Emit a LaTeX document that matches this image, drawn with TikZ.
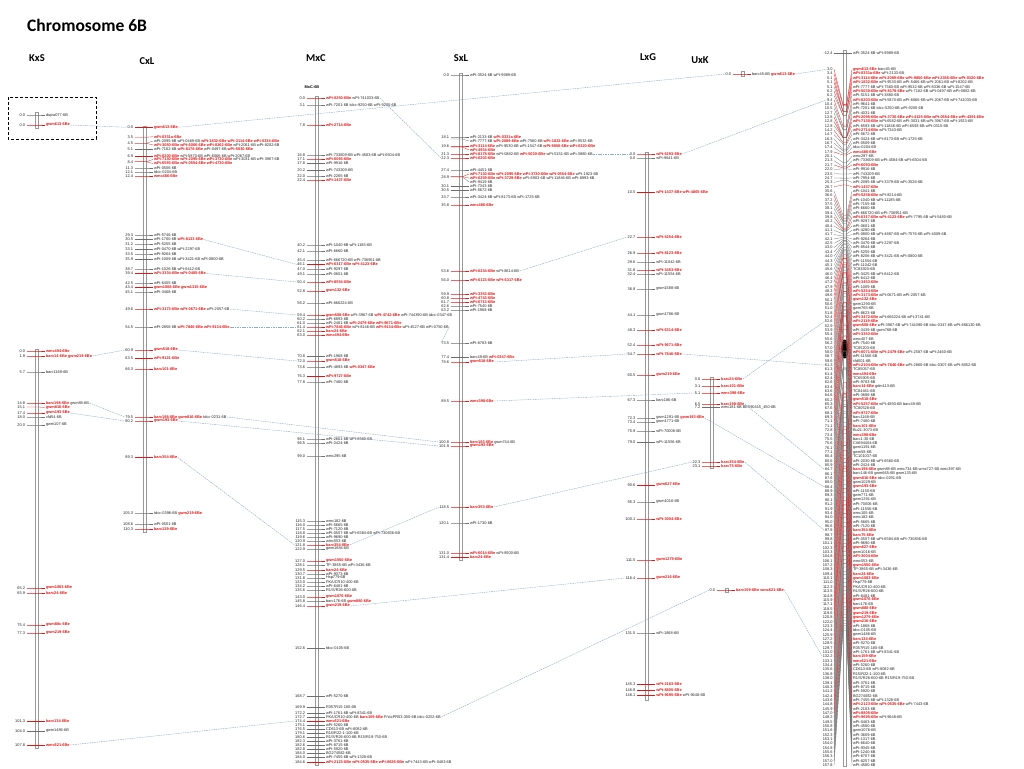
\documentclass[tikz,border=0pt]{standalone}
\usepackage{fontspec}
\setmainfont{Liberation Sans}
\newfontfamily\titlefont{Carlito}
\definecolor{mkred}{RGB}{228,20,20}
\definecolor{lnk}{RGB}{140,170,215}
\definecolor{gr}{RGB}{110,110,110}
\newcommand\rd[1]{\textcolor{mkred}{\bfseries #1}}
\tikzset{
 barline/.style={draw=gr!70, line width=0.35pt},
 tk/.style={line width=0.28pt},
 numtxt/.style={font=\fontsize{3.9}{4.2}\selectfont, text=black!85, inner sep=0.3pt, anchor=east},
 labtxt/.style={font=\fontsize{3.9}{4.2}\selectfont, text=black!85, inner sep=0.3pt, anchor=west},
 lnkline/.style={draw=lnk, line width=0.4pt, dash pattern=on 1.6pt off 0.8pt},
 ttl/.style={font=\titlefont\bfseries\fontsize{10.5}{11}\selectfont, inner sep=0pt},
}
% name, barx, numy, number, laby, colour, text
\newcommand\mk[7]{%
 \node[numtxt] (#1n) at ({#2-11},#3) {#4};
 \draw[tk,draw=#6] ({#2-10},#3) -- ({#2+2},#3) -- ({#2+8.5},#5);
 \node[labtxt] (#1) at ({#2+9},#5) {#7};
}
% consensus: row k, cM, colour, text
\newcommand\ck[4]{%
 \pgfmathsetmacro\ly{69.3+4.35*#1}
 \pgfmathsetmacro\py{min(764,max(52,52+(#2+12.4)*3.4))}
 \node[numtxt] (r#1n) at (833,\ly) {#2};
 \draw[tk,draw=#3] (834,\ly) -- (843,\py) -- (846.5,\py) -- (852,\ly);
 \node[labtxt] (r#1) at (852.5,\ly) {#4};
}
\begin{document}
\begin{tikzpicture}[x=1pt,y=-1pt]
\useasboundingbox[fill=white] (0,0) rectangle (1024,768);
\node[anchor=west,font=\titlefont\bfseries\fontsize{17.5}{18}\selectfont,inner sep=0pt] (title) at (27,25) {Chromosome 6B};
\node[ttl] (tK) at (37,58) {KxS};
\node[ttl] (tC) at (147,61) {CxL};
\node[ttl] (tM) at (316,58) {MxC};
\node[ttl] (tS) at (461,58) {SxL};
\node[ttl] (tL) at (648,57) {LxG};
\node[ttl] (tU) at (700,60) {UxK};

% ---------- KxS ----------
\draw[line width=0.8pt, dash pattern=on 3pt off 2pt] (8,97) rectangle (96,139);
\draw[barline] (35,112) rectangle (38,128);
\mk{ka}{36.5}{115}{0.0}{115}{gr}{dupw077-6B}
\mk{kb}{36.5}{125}{0.0}{125}{mkred}{\rd{gwm613-6Be}}
\draw[barline] (35,349) rectangle (38,748);
\mk{k1}{36.5}{351}{0.0}{351}{mkred}{\rd{wmc494-6Be}}
\mk{k2}{36.5}{356}{1.9}{356}{mkred}{\rd{barc14-6Be gwm219-6Be}}
\mk{k3}{36.5}{372}{5.7}{372}{gr}{barc1169-6B}
\mk{k4}{36.5}{403}{14.8}{403}{mkred}{\rd{barc198-6Be} gwm88-6B}
\mk{k5}{36.5}{407}{15.1}{407.5}{mkred}{\rd{gwm816-6Be}}
\mk{k6}{36.5}{413}{17.4}{413}{mkred}{\rd{gwm193-6Be}}
\mk{k7}{36.5}{417}{18.0}{417}{gr}{cfd54-6B}
\mk{k8}{36.5}{425}{20.0}{425}{gr}{gwm107-6B}
\mk{k9}{36.5}{588}{65.2}{588}{mkred}{\rd{gwm1083-6Be}}
\mk{k10}{36.5}{593}{65.9}{593}{mkred}{\rd{barc24-6Be}}
\mk{k11}{36.5}{625}{75.4}{625}{mkred}{\rd{gwm88c-6Be}}
\mk{k12}{36.5}{633}{77.3}{633}{mkred}{\rd{gwm219-6Be}}
\mk{k13}{36.5}{721}{101.3}{721}{mkred}{\rd{barc134-6Be}}
\mk{k14}{36.5}{731}{104.0}{731}{gr}{gwm1486-6B}
\mk{k15}{36.5}{745}{107.8}{745}{mkred}{\rd{wmc621-6Be}}

% ---------- CxL ----------
\draw[barline] (143,126) rectangle (146,532);
\mk{c1}{144.5}{127.3}{0.0}{127.3}{mkred}{\rd{gwm613-6Be}}
\mk{c2}{144.5}{137.3}{3.5}{136.7}{mkred}{\rd{wPt-0331a-6Be}}
\mk{c3}{144.5}{143.3}{4.5}{141}{gr}{wPt-2095-6B wPt-0469-6B \rd{wPt-1832-6Be wPt-3114-6Be wPt-5334-6Be}}
\mk{c4}{144.5}{143.3}{}{145}{mkred}{\rd{wPt-3050-6Be wPt-6066-6Be wPt-0262-6Be} wPt-2061-6B wPt-8202-6B}
\mk{c5}{144.5}{149.3}{5.1}{149.3}{gr}{wPt-7162-6B \rd{wPt-8178-6Be} wPt-0497-6B \rd{wPt-5030-6Be}}
\mk{c6}{144.5}{155.7}{6.9}{155.7}{mkred}{\rd{wPt-6200-6Be} wPt-5870-6B wPt-6066-6B wPt-2067-6B}
\mk{c7}{144.5}{161.7}{8.4}{159.5}{mkred}{\rd{wPt-7130-6Be wPt-2095-6Be wPt-3730-6Be} wPt-3031-6B wPt-3967-6B}
\mk{c8}{144.5}{161.7}{}{163.5}{mkred}{\rd{wPt-6593-6Be wPt-0554-6Be wPt-4730-6Be}}
\mk{c9}{144.5}{168}{11.3}{168}{gr}{wPt-0506-6B}
\mk{c10}{144.5}{172}{12.1}{172}{gr}{tdcc-0204-6B}
\mk{c11}{144.5}{176}{12.4}{176}{mkred}{\rd{wmc486-6Be}}
\mk{c12}{144.5}{235}{29.3}{235}{gr}{wPt-5746-6B}
\mk{c13}{144.5}{239.5}{30.5}{239.5}{gr}{wPt-1700-6B \rd{wPt-8133-6Be}}
\mk{c14}{144.5}{244}{31.2}{244}{gr}{wPt-5255-6B}
\mk{c15}{144.5}{249.5}{33.1}{249.5}{gr}{wPt-0470-6B wPt-2297-6B}
\mk{c16}{144.5}{254}{33.5}{254}{gr}{wPt-9264-6B}
\mk{c17}{144.5}{259.5}{35.9}{259.5}{gr}{wPt-1009-6B wPt-3421-6B wPt-0800-6B}
\mk{c18}{144.5}{269}{38.7}{269}{gr}{wPt-1026-6B wPt-6412-6B}
\mk{c19}{144.5}{273.5}{39.4}{273.5}{mkred}{\rd{wPt-3334-6Be wPt-0405-6Be}}
\mk{c20}{144.5}{283}{42.5}{283}{gr}{wPt-6405-6B}
\mk{c21}{144.5}{287.5}{43.4}{287.5}{mkred}{\rd{gwm1008-6Be gwm1315-6Be}}
\mk{c22}{144.5}{292}{45.1}{292}{gr}{wPt-3468-6B}
\mk{c23}{144.5}{309}{49.6}{309}{mkred}{\rd{wPt-3173-6Be wPt-0671-6Be} wPt-2057-6B}
\mk{c24}{144.5}{327}{54.5}{327}{gr}{wPt-2856-6B \rd{wPt-7846-6Be wPt-9134-6Be}}
\mk{c25}{144.5}{350}{60.9}{350}{mkred}{\rd{gwm518-6Be}}
\mk{c26}{144.5}{358.5}{63.5}{358.5}{mkred}{\rd{wPt-9121-6Be}}
\mk{c27}{144.5}{369}{66.3}{369}{mkred}{\rd{barc101-6Be}}
\mk{c28}{144.5}{417}{79.5}{417}{mkred}{\rd{barc198-6Be gwm816-6Be} tdcc-0231-6B}
\mk{c29}{144.5}{421}{80.2}{421}{mkred}{\rd{gwm193-6Be}}
\mk{c30}{144.5}{457.5}{89.3}{457.5}{mkred}{\rd{barc354-6Be}}
\mk{c31}{144.5}{513}{105.3}{513}{gr}{tdcc-0396-6B \rd{gwm219-6Be}}
\mk{c32}{144.5}{524}{108.6}{524}{gr}{wPt-0501-6B}
\mk{c33}{144.5}{529}{110.3}{529}{mkred}{\rd{barc129-6Be}}

% ---------- MxC ----------
\node[font=\bfseries\fontsize{3.9}{4.2}\selectfont,inner sep=0pt] (mxclab) at (312,87) {MxC-6B};
\draw[barline] (315,96) rectangle (318,765);
\mk{m1}{316.5}{98}{0.0}{98}{mkred}{\rd{wPt-0250-6Be} wPt-741033-6B}
\mk{m2}{316.5}{105}{3.1}{105}{gr}{wPt-7201-6B tdcc-9250-6B wPt-9200-6B}
\mk{m3}{316.5}{125}{7.8}{125}{mkred}{\rd{wPt-2714-6Be}}
\mk{m4}{316.5}{155}{16.8}{155}{gr}{wPt-733609-6B wPt-4583-6B wPt-6504-6B}
\mk{m5}{316.5}{159}{17.1}{159}{mkred}{\rd{wPt-6093-6Be}}
\mk{m6}{316.5}{163.5}{17.8}{163.5}{gr}{wPt-9916-6B}
\mk{m7}{316.5}{170.5}{20.2}{170.5}{gr}{wPt-743209-6B}
\mk{m8}{316.5}{176}{22.0}{176}{gr}{wPt-2265-6B}
\mk{m9}{316.5}{180}{22.4}{180}{mkred}{\rd{wPt-1437-6Be}}
\mk{m10}{316.5}{245}{40.2}{245}{gr}{wPt-1040-6B wPt-1185-6B}
\mk{m11}{316.5}{251}{42.1}{251}{gr}{wPt-6660-6B}
\mk{m12}{316.5}{260}{45.4}{260}{gr}{wPt-666720-6B wPt-736951-6B}
\mk{m13}{316.5}{264.5}{46.1}{264.5}{mkred}{\rd{wPt-6317-6Be wPt-4123-6Be}}
\mk{m14}{316.5}{269}{47.0}{269}{gr}{wPt-9297-6B}
\mk{m15}{316.5}{274}{49.1}{274}{gr}{wPt-0601-6B}
\mk{m16}{316.5}{282}{50.4}{282}{mkred}{\rd{wPt-8554-6Be}}
\mk{m17}{316.5}{291}{52.8}{291}{mkred}{\rd{gwm132-6Be}}
\mk{m18}{316.5}{303}{56.2}{303}{gr}{wPt-666224-6B}
\mk{m19}{316.5}{315}{59.4}{315}{mkred}{\rd{gwm508-6Be} wPt-3967-6B \rd{wPt-4742-6Be} wPt-744390-6B tdcc-0347-6B}
\mk{m20}{316.5}{319}{60.2}{319}{gr}{wPt-6893-6B}
\mk{m21}{316.5}{323}{61.0}{323}{gr}{wPt-2481-6B \rd{wPt-2479-6Be wPt-9671-6Be}}
\mk{m22}{316.5}{327}{61.4}{327}{mkred}{\rd{wPt-7846-6Be} wPt-8146-6B \rd{wPt-9134-6Be} wPt-4527-6B wPt-0750-6B}
\mk{m23}{316.5}{331}{62.1}{331}{mkred}{\rd{barc24-6Be}}
\mk{m24}{316.5}{335}{63.0}{335}{mkred}{\rd{wmc494-6Be}}
\mk{m25}{316.5}{356.5}{70.8}{356.5}{gr}{wPt-1968-6B}
\mk{m26}{316.5}{361}{72.0}{361}{mkred}{\rd{gwm518-6Be}}
\mk{m27}{316.5}{367}{73.6}{367}{gr}{wPt-4893-6B \rd{wPt-0347-6Be}}
\mk{m28}{316.5}{376.5}{76.3}{376.5}{mkred}{\rd{wPt-9727-6Be}}
\mk{m29}{316.5}{382}{77.8}{382}{gr}{wPt-7480-6B}
\mk{m30}{316.5}{439}{96.1}{439}{gr}{wPt-2661-6B wPt-8560-6B}
\mk{m31}{316.5}{443}{96.5}{443}{gr}{wPt-2424-6B}
\mk{m32}{316.5}{456}{99.0}{456}{gr}{wmc295-6B}
\mk{m33}{316.5}{521}{115.3}{521}{gr}{wmc182-6B}
\mk{m34}{316.5}{525}{116.0}{525}{gr}{wPt-5665-6B}
\mk{m35}{316.5}{529}{117.5}{529}{gr}{wPt-7120-6B}
\mk{m36}{316.5}{533}{118.8}{533}{gr}{wPt-0507-6B wPt-6584-6B wPt-730836-6B}
\mk{m37}{316.5}{537}{119.6}{537}{gr}{wPt-9690-6B}
\mk{m38}{316.5}{541}{120.9}{541}{gr}{wmc553-6B}
\mk{m39}{316.5}{545}{121.8}{545}{mkred}{\rd{barc354-6Be}}
\mk{m40}{316.5}{549}{122.9}{549}{gr}{gwm1684-6B}
\mk{m41}{316.5}{561}{127.0}{561}{mkred}{\rd{gwm1550-6Be}}
\mk{m42}{316.5}{565}{128.1}{565}{gr}{TP-3865-6B wPt-3436-6B}
\mk{m43}{316.5}{570}{129.5}{570}{mkred}{\rd{barc24-6Be}}
\mk{m44}{316.5}{574}{130.7}{574}{gr}{wPt-9373-6B}
\mk{m45}{316.5}{578}{131.8}{578}{gr}{Hsp779-6B}
\mk{m46}{316.5}{582}{133.0}{582}{gr}{PKA/CR10-400-6B}
\mk{m47}{316.5}{586}{134.2}{586}{gr}{wPt-6481-6B}
\mk{m48}{316.5}{590}{135.6}{590}{gr}{R1/S/R26-600-6B}
\mk{m49}{316.5}{597}{143.0}{597}{mkred}{\rd{gwm1076-6Be}}
\mk{m50}{316.5}{601}{145.8}{601}{gr}{barc176-6B \rd{gwm880-6Be}}
\mk{m51}{316.5}{606}{146.4}{606}{mkred}{\rd{gwm219-6Be}}
\mk{m52}{316.5}{648}{152.6}{648}{gr}{tdcc-0105-6B}
\mk{m53}{316.5}{696}{168.7}{696}{gr}{wPt-5270-6B}
\mk{m54}{316.5}{707}{169.9}{707}{gr}{R357R15-180-6B}
\mk{m55}{316.5}{713}{172.2}{713}{gr}{wPt-1761-6B wPt-8341-6B}
\mk{m56}{316.5}{717}{172.7}{717}{gr}{PKA/CR10-400-6B \rd{barc159-6Be} P/ctcPR03-300-6B tdcc-0252-6B}
\mk{m57}{316.5}{721}{174.4}{721}{mkred}{\rd{wmc621-6Be}}
\mk{m58}{316.5}{725}{175.1}{725}{gr}{wPt-5260-6B}
\mk{m59}{316.5}{729.5}{176.5}{729.5}{gr}{CD613-6B wPt-8082-6B}
\mk{m60}{316.5}{733.5}{179.1}{733.5}{gr}{R15/R22-1-100-6B}
\mk{m61}{316.5}{737.5}{180.6}{737.5}{gr}{R1/S/R26-600-6B R15/R19-750-6B}
\mk{m62}{316.5}{741.5}{182.3}{741.5}{gr}{wPt-3761-6B}
\mk{m63}{316.5}{745.5}{182.6}{745.5}{gr}{wPt-8715-6B}
\mk{m64}{316.5}{749.5}{182.8}{749.5}{gr}{wPt-5920-6B}
\mk{m65}{316.5}{753.5}{184.0}{753.5}{gr}{BG274082-6B}
\mk{m66}{316.5}{757.5}{184.0}{757.5}{gr}{wPt-7455-6B wPt-1328-6B}
\mk{m67}{316.5}{762}{184.6}{762}{mkred}{\rd{wPt-2123-6Be wPt-0535-6Be wPt-0626-6Be} wPt-7443-6B wPt-0463-6B}

% ---------- SxL ----------
\draw[barline] (459,73) rectangle (462,560);
\mk{s1}{460.5}{75}{0.0}{75}{gr}{wPt-3524-6B wPt-9989-6B}
\mk{s2}{460.5}{137}{18.1}{137}{gr}{wPt-2133-6B \rd{wPt-0331a-6Be}}
\mk{s3}{460.5}{139}{}{141}{gr}{wPt-7777-6B \rd{wPt-2089-6Be} wPt-7560-6B \rd{wPt-1832-6Be} wPt-9532-6B}
\mk{s4}{460.5}{146}{19.6}{146}{mkred}{\rd{wPt-3114-6Be} wPt-9530-6B wPt-1547-6B \rd{wPt-9850-6Be wPt-0320-6Be}}
\mk{s5}{460.5}{147}{}{150}{mkred}{\rd{wPt-4934-6Be}}
\mk{s6}{460.5}{154}{21.3}{154}{mkred}{\rd{wPt-8178-6Be} wPt-0882-6B \rd{wPt-5030-6Be} wPt-5151-6B wPt-3880-6B}
\mk{s7}{460.5}{158}{22.3}{158}{mkred}{\rd{wPt-6203-6Be}}
\mk{s8}{460.5}{170}{27.4}{170}{gr}{wPt-4451-6B}
\mk{s9}{460.5}{176.7}{28.9}{174}{mkred}{\rd{wPt-7130-6Be wPt-2095-6Be wPt-3730-6Be wPt-0554-6Be} wPt-1923-6B}
\mk{s10}{460.5}{176.7}{}{178}{mkred}{\rd{wPt-6259-6Be wPt-3729-6Be} wPt-6903-6B wPt-11846-6B wPt-8993-6B}
\mk{s11}{460.5}{177}{}{182}{gr}{wPt-9419-6B}
\mk{s12}{460.5}{186.3}{30.1}{186.3}{gr}{wPt-7343-6B}
\mk{s13}{460.5}{190.3}{30.5}{190.3}{gr}{wPt-5672-6B}
\mk{s14}{460.5}{197}{33.7}{197}{gr}{wPt-3424-6B wPt-8173-6B wPt-1725-6B}
\mk{s15}{460.5}{205}{35.8}{205}{mkred}{\rd{wmc486-6Be}}
\mk{s16}{460.5}{271}{53.6}{271}{mkred}{\rd{wPt-6234-6Be} wPt-8614-6B}
\mk{s17}{460.5}{280}{56.0}{280}{mkred}{\rd{wPt-6123-6Be wPt-6317-6Be}}
\mk{s18}{460.5}{294}{59.9}{294}{mkred}{\rd{wPt-3353-6Be}}
\mk{s19}{460.5}{298}{60.8}{298}{mkred}{\rd{wPt-4743-6Be}}
\mk{s20}{460.5}{302}{61.7}{302}{mkred}{\rd{wPt-6713-6Be}}
\mk{s21}{460.5}{306}{62.6}{306}{gr}{wPt-7540-6B}
\mk{s22}{460.5}{310}{63.2}{310}{gr}{wPt-1968-6B}
\mk{s23}{460.5}{343}{73.5}{343}{gr}{wPt-6783-6B}
\mk{s24}{460.5}{357.5}{77.4}{357.5}{gr}{barc49-6B \rd{wPt-0347-6Be}}
\mk{s25}{460.5}{362}{78.6}{362}{mkred}{\rd{gwm518-6Be}}
\mk{s26}{460.5}{401}{89.5}{401}{mkred}{\rd{wmc398-6Be}}
\mk{s27}{460.5}{442}{100.8}{442}{mkred}{\rd{barc183-6Be} gwm744-6B}
\mk{s28}{460.5}{446}{101.9}{446}{mkred}{\rd{gwm193-6Be}}
\mk{s29}{460.5}{507}{118.5}{507}{mkred}{\rd{barc353-6Be}}
\mk{s30}{460.5}{523}{120.1}{523}{gr}{wPt-1730-6B}
\mk{s31}{460.5}{553}{131.0}{553}{mkred}{\rd{wPt-6014-6Be} wPt-8500-6B}
\mk{s32}{460.5}{557.5}{131.4}{557.5}{mkred}{\rd{barc24-6Be}}

% ---------- LxG ----------
\draw[barline] (645,152) rectangle (648.5,700);
\mk{l1}{646.8}{154}{0.0}{154}{mkred}{\rd{wPt-6293-6Be}}
\mk{l2}{646.8}{158}{0.0}{158}{gr}{wPt-9641-6B}
\mk{l3}{646.8}{192.3}{10.5}{192.3}{mkred}{\rd{wPt-1437-6Be wPt-4865-6Be}}
\mk{l4}{646.8}{237}{22.7}{237}{mkred}{\rd{wPt-5254-6Be}}
\mk{l5}{646.8}{253}{26.9}{253}{mkred}{\rd{wPt-8123-6Be}}
\mk{l6}{646.8}{262}{29.6}{262}{gr}{wPt-11042-6B}
\mk{l7}{646.8}{270}{31.8}{270}{mkred}{\rd{wPt-3453-6Be}}
\mk{l8}{646.8}{274}{32.4}{274}{gr}{wPt-11554-6B}
\mk{l9}{646.8}{289}{36.9}{289}{gr}{gwm1588-6B}
\mk{l10}{646.8}{315}{44.1}{315}{gr}{gwm1786-6B}
\mk{l11}{646.8}{330}{48.3}{330}{mkred}{\rd{wPt-6314-6Be}}
\mk{l12}{646.8}{345}{52.4}{345}{mkred}{\rd{wPt-9671-6Be}}
\mk{l13}{646.8}{354}{54.7}{354}{mkred}{\rd{wPt-7846-6Be}}
\mk{l14}{646.8}{375}{60.5}{375}{mkred}{\rd{gwm219-6Be}}
\mk{l15}{646.8}{400}{67.3}{400}{gr}{barc186-6B}
\mk{l16}{646.8}{418}{72.3}{418}{gr}{gwm1291-6B \rd{gwm193-6Be}}
\mk{l17}{646.8}{422}{73.4}{422}{gr}{gwm1771-6B}
\mk{l18}{646.8}{431}{75.9}{431}{gr}{wPt-70006-6B}
\mk{l19}{646.8}{442.5}{79.0}{442.5}{gr}{wPt-11556-6B}
\mk{l20}{646.8}{484.7}{90.6}{484.7}{mkred}{\rd{gwm627-6Be}}
\mk{l21}{646.8}{502}{95.3}{502}{gr}{gwm1016-6B}
\mk{l22}{646.8}{519}{100.1}{519}{mkred}{\rd{wPt-3004-6Be}}
\mk{l23}{646.8}{560}{111.5}{560}{mkred}{\rd{gwm1279-6Be}}
\mk{l24}{646.8}{578}{116.4}{578}{mkred}{\rd{gwm216-6Be}}
\mk{l25}{646.8}{633}{131.5}{633}{gr}{wPt-1868-6B}
\mk{l26}{646.8}{684}{145.3}{684}{mkred}{\rd{wPt-2183-6Be}}
\mk{l27}{646.8}{690}{146.8}{690}{mkred}{\rd{wPt-8805-6Be}}
\mk{l28}{646.8}{695}{148.1}{695}{mkred}{\rd{wPt-9695-6Be} wPt-9648-6B}

% ---------- UxK ----------
\draw[barline] (741,71.5) rectangle (744,76.5);
\mk{ut1}{742.5}{74}{0.0}{74}{mkred}{barc45-6B \rd{gwm613-6Be}}
\draw[barline] (710,377) rectangle (713.3,468);
\mk{u1}{711.7}{379}{0.0}{379}{mkred}{\rd{barc24-6Be}}
\mk{u2}{711.7}{386}{3.1}{386}{mkred}{\rd{barc101-6Be}}
\mk{u3}{711.7}{393}{5.1}{393}{mkred}{\rd{wmc398-6Be}}
\mk{u4}{711.7}{404}{6.5}{404}{mkred}{\rd{barc198-6Be}}
\mk{u5}{711.7}{407.5}{7.2}{407.5}{gr}{wmc181-6B BE590415\_450-6B}
\mk{u6}{711.7}{462}{22.3}{462}{mkred}{\rd{barc354-6Be}}
\mk{u7}{711.7}{466}{23.1}{466}{mkred}{\rd{barc75-6Be}}
\draw[barline] (725,588) rectangle (728,592);
\mk{ub1}{726.5}{590}{0.0}{590}{mkred}{\rd{barc159-6Be wmc621-6Be}}

% ---------- consensus ----------
\draw[barline] (843,50) rectangle (846.5,766);
\fill[black] (844.8,349) ellipse (3.6 and 9.5);
\node[numtxt] (r-1n) at (833,52.7) {-12.4};
\draw[tk,draw=gr] (834,52.7) -- (852,52.7);
\node[labtxt] (r-1) at (852.5,52.7) {wPt-3524-6B wPt-9989-6B};
\ck{0}{3.0}{mkred}{\rd{gwm613-6Be} barc45-6B}
\ck{1}{3.4}{mkred}{\rd{wPt-0331a-6Be} wPt-2133-6B}
\ck{2}{5.1}{mkred}{\rd{wPt-3114-6Be wPt-2089-6Be wPt-9850-6Be wPt-2356-6Be wPt-0320-6Be}}
\ck{3}{5.1}{mkred}{\rd{wPt-1832-6Be} wPt-9530-6B wPt-5466-6B wPt-2061-6B wPt-8202-6B}
\ck{4}{5.1}{gr}{wPt-7777-6B wPt-7560-6B wPt-9532-6B wPt-8336-6B wPt-1547-6B}
\ck{5}{6.2}{mkred}{\rd{wPt-5030-6Be wPt-8178-6Be} wPt-7162-6B wPt-0497-6B wPt-0882-6B}
\ck{6}{6.2}{gr}{wPt-5151-6B wPt-3880-6B}
\ck{7}{9.4}{mkred}{\rd{wPt-6203-6Be} wPt-5870-6B wPt-6066-6B wPt-2067-6B wPt-741033-6B}
\ck{8}{10.4}{gr}{wPt-9641-6B}
\ck{9}{10.5}{gr}{wPt-7201-6B tdcc-5250-6B wPt-9200-6B}
\ck{10}{12.7}{gr}{wPt-4031-6B}
\ck{11}{12.8}{mkred}{\rd{wPt-2095-6Be wPt-3730-6Be wPt-4125-6Be wPt-0554-6Be wPt-4391-6Be}}
\ck{12}{12.8}{mkred}{\rd{wPt-7130-6Be} wPt-6582-6B wPt-3031-6B wPt-3967-6B wPt-1923-6B}
\ck{13}{12.8}{gr}{wPt-6593-6B wPt-11846-6B wPt-6593-6B wPt-0315-6B}
\ck{14}{14.2}{mkred}{\rd{wPt-2714-6Be} wPt-7343-6B}
\ck{15}{14.7}{gr}{wPt-5672-6B}
\ck{16}{16.3}{gr}{wPt-3424-6B wPt-8173-6B wPt-1725-6B}
\ck{17}{16.7}{gr}{wPt-0509-6B}
\ck{18}{17.4}{gr}{tdcc-0204-6B}
\ck{19}{17.9}{mkred}{\rd{wmc486-6Be}}
\ck{20}{20.1}{gr}{wmc297-6B}
\ck{21}{21.3}{gr}{wPt-733609-6B wPt-4584-6B wPt-6504-6B}
\ck{22}{21.7}{mkred}{\rd{wPt-6093-6Be}}
\ck{23}{22.0}{gr}{wPt-9916-6B}
\ck{24}{23.5}{gr}{wPt-743209-6B}
\ck{25}{24.7}{gr}{wPt-7954-6B}
\ck{26}{25.3}{gr}{wPt-2095-6B wPt-3379-6B wPt-3526-6B}
\ck{27}{26.7}{mkred}{\rd{wPt-1437-6Be}}
\ck{28}{35.6}{gr}{wPt-1041-6B}
\ck{29}{36.6}{mkred}{\rd{wPt-5258-6Be} wPt-8214-6B}
\ck{30}{37.2}{gr}{wPt-1040-6B wPt-11185-6B}
\ck{31}{37.5}{gr}{wPt-7155-6B}
\ck{32}{38.1}{gr}{wPt-6660-6B}
\ck{33}{39.4}{gr}{wPt-666720-6B wPt-736951-6B}
\ck{34}{39.8}{mkred}{\rd{wPt-6317-6Be wPt-4123-6Be} wPt-7795-6B wPt-5480-6B}
\ck{35}{40.2}{gr}{wPt-9297-6B}
\ck{36}{40.4}{gr}{wPt-0601-6B}
\ck{37}{41.1}{gr}{wPt-4280-6B}
\ck{38}{41.7}{gr}{wPt-0800-6B wPt-4887-6B wPt-7576-6B wPt-4009-6B}
\ck{39}{42.1}{gr}{wPt-9264-6B}
\ck{40}{42.5}{gr}{wPt-3476-6B wPt-2297-6B}
\ck{41}{43.0}{gr}{wPt-8544-6B}
\ck{42}{43.4}{gr}{wPt-5255-6B}
\ck{43}{44.0}{gr}{wPt-8206-6B wPt-3421-6B wPt-0800-6B}
\ck{44}{44.3}{gr}{wPt-11554-6B}
\ck{45}{45.1}{gr}{wPt-11042-6B}
\ck{46}{45.6}{gr}{TC83920-6B}
\ck{47}{46.0}{gr}{wPt-3425-6B wPt-8412-6B}
\ck{48}{46.4}{gr}{wPt-6412-6B}
\ck{49}{47.2}{mkred}{\rd{wPt-3453-6Be}}
\ck{50}{47.9}{gr}{wPt-1009-6B}
\ck{51}{48.3}{mkred}{\rd{wPt-5254-6Be}}
\ck{52}{49.6}{mkred}{\rd{wPt-3173-6Be} wPt-0671-6B wPt-2057-6B}
\ck{53}{50.1}{mkred}{\rd{gwm132-6Be}}
\ck{54}{50.6}{gr}{gwm1290-6B}
\ck{55}{51.0}{gr}{gwm765-6B}
\ck{56}{51.8}{gr}{wPt-8623-6B}
\ck{57}{52.4}{mkred}{\rd{wPt-3472-6Be} wPt-666224-6B wPt-3741-6B}
\ck{58}{52.6}{mkred}{\rd{wPt-2119-6Be}}
\ck{59}{52.9}{mkred}{\rd{gwm508-6Be} wPt-3967-6B wPt-744390-6B tdcc-0347-6B wPt-666130-6B}
\ck{60}{53.9}{gr}{wPt-3439-6B gwm768-6B}
\ck{61}{55.4}{mkred}{\rd{wPt-3353-6Be}}
\ck{62}{55.6}{gr}{wmc407-6B}
\ck{63}{56.2}{gr}{wPt-7540-6B}
\ck{64}{57.0}{gr}{TC85203-6B}
\ck{65}{58.0}{mkred}{\rd{wPt-0071-6Be wPt-2479-6Be} wPt-2587-6B wPt-2460-6B}
\ck{66}{58.7}{gr}{wPt-11560-6B}
\ck{67}{59.6}{gr}{cfd001-6B}
\ck{68}{61.3}{mkred}{\rd{wPt-2104-6Be wPt-7846-6Be} wPt-2860-6B tdcc-0307-6B wPt-8052-6B}
\ck{69}{61.3}{gr}{TC85057-6B}
\ck{70}{61.4}{mkred}{\rd{wmc494-6Be}}
\ck{71}{62.4}{gr}{TC65905-6B}
\ck{72}{62.6}{gr}{wPt-9783-6B}
\ck{73}{63.4}{mkred}{\rd{barc14-6Be} gdm113-6B}
\ck{74}{63.6}{gr}{TC84461-6B}
\ck{75}{64.6}{gr}{wPt-3686-6B}
\ck{76}{65.2}{mkred}{\rd{gwm518-6Be}}
\ck{77}{65.3}{mkred}{\rd{wPt-5257-6Be} wPt-4893-6B barc49-6B}
\ck{78}{67.6}{gr}{TC80528-6B}
\ck{79}{68.1}{mkred}{\rd{wPt-9727-6Be}}
\ck{80}{69.3}{gr}{barc1168-6B}
\ck{81}{71.1}{gr}{wPt-7480-6B}
\ck{82}{71.1}{mkred}{\rd{barc101-6Be}}
\ck{83}{72.8}{gr}{Bu21-3073-6B}
\ck{84}{73.4}{mkred}{\rd{wmc398-6Be}}
\ck{85}{75.5}{gr}{barc1-30-6B}
\ck{86}{75.6}{gr}{CA694404-6B}
\ck{87}{76.1}{gr}{gwm1191-6B}
\ck{88}{77.1}{gr}{gwm58-6B}
\ck{89}{80.4}{gr}{TC101037-6B}
\ck{90}{80.6}{gr}{wPt-2030-6B wPt-6560-6B}
\ck{91}{80.9}{gr}{wPt-2424-6B}
\ck{92}{84.7}{mkred}{\rd{barc198-6Be} gwm88-6B wmc734-6B wmc727-6B wmc397-6B}
\ck{93}{86.1}{gr}{barc146-6B gwm665-6B gwm133-6B}
\ck{94}{87.6}{mkred}{\rd{gwm816-6Be} tdcc-0291-6B}
\ck{95}{88.0}{gr}{gwm1029-6B}
\ck{96}{88.4}{mkred}{\rd{gwm193-6Be}}
\ck{97}{88.9}{gr}{wPt-1150-6B}
\ck{98}{89.3}{gr}{gwm771-6B}
\ck{99}{90.1}{gr}{gwm1291-6B}
\ck{100}{91.2}{gr}{wPt-70006-6B}
\ck{101}{91.9}{gr}{wPt-11556-6B}
\ck{102}{93.4}{gr}{wmc105-6B}
\ck{103}{94.0}{gr}{wmc182-6B}
\ck{104}{95.0}{gr}{wPt-5665-6B}
\ck{105}{96.6}{gr}{wPt-7120-6B}
\ck{106}{97.8}{mkred}{\rd{barc354-6Be}}
\ck{107}{98.7}{mkred}{\rd{barc75-6Be}}
\ck{108}{99.8}{gr}{wPt-0507-6B wPt-6584-6B wPt-730836-6B}
\ck{109}{101.1}{gr}{wPt-9690-6B}
\ck{110}{102.3}{mkred}{\rd{gwm627-6Be}}
\ck{111}{103.3}{gr}{gwm1016-6B}
\ck{112}{104.8}{mkred}{\rd{wPt-3004-6Be}}
\ck{113}{106.1}{gr}{wmc553-6B}
\ck{114}{107.2}{mkred}{\rd{gwm1550-6Be}}
\ck{115}{108.3}{gr}{TP-3865-6B wPt-3436-6B}
\ck{116}{109.4}{mkred}{\rd{barc24-6Be}}
\ck{117}{110.1}{mkred}{\rd{gwm1083-6Be}}
\ck{118}{111.0}{gr}{Hsp779-6B}
\ck{119}{112.3}{gr}{PKA/CR10-400-6B}
\ck{120}{113.5}{gr}{R1/S/R26-600-6B}
\ck{121}{114.8}{gr}{wPt-6481-6B}
\ck{122}{115.9}{mkred}{\rd{gwm1076-6Be}}
\ck{123}{117.1}{gr}{barc176-6B}
\ck{124}{118.5}{mkred}{\rd{gwm880-6Be}}
\ck{125}{119.6}{mkred}{\rd{gwm219-6Be}}
\ck{126}{120.8}{mkred}{\rd{gwm1279-6Be}}
\ck{127}{122.0}{mkred}{\rd{gwm216-6Be}}
\ck{128}{123.3}{gr}{wPt-1868-6B}
\ck{129}{124.4}{gr}{tdcc-0105-6B}
\ck{130}{125.9}{gr}{gwm1486-6B}
\ck{131}{127.2}{mkred}{\rd{barc134-6Be}}
\ck{132}{128.5}{gr}{wPt-5270-6B}
\ck{133}{129.7}{gr}{R357R15-180-6B}
\ck{134}{131.0}{gr}{wPt-1761-6B wPt-8341-6B}
\ck{135}{132.2}{mkred}{\rd{barc159-6Be}}
\ck{136}{133.1}{mkred}{\rd{wmc621-6Be}}
\ck{137}{134.4}{gr}{wPt-5260-6B}
\ck{138}{135.6}{gr}{CD613-6B wPt-8082-6B}
\ck{139}{136.8}{gr}{R15/R22-1-100-6B}
\ck{140}{138.0}{gr}{R1/S/R26-600-6B R15/R19-750-6B}
\ck{141}{139.1}{gr}{wPt-3761-6B}
\ck{142}{140.3}{gr}{wPt-8715-6B}
\ck{143}{141.2}{gr}{wPt-5920-6B}
\ck{144}{142.4}{gr}{BG274082-6B}
\ck{145}{143.6}{gr}{wPt-7455-6B wPt-1328-6B}
\ck{146}{144.8}{mkred}{\rd{wPt-2123-6Be wPt-0535-6Be} wPt-7443-6B}
\ck{147}{145.9}{gr}{wPt-2183-6B}
\ck{148}{147.0}{mkred}{\rd{wPt-8805-6Be}}
\ck{149}{148.2}{mkred}{\rd{wPt-9695-6Be} wPt-9648-6B}
\ck{150}{149.5}{gr}{wPt-0463-6B}
\ck{151}{150.8}{gr}{wPt-4580-6B}
\ck{152}{151.6}{gr}{gwm1076-6B}
\ck{153}{152.3}{gr}{wPt-3609-6B}
\ck{154}{153.1}{gr}{wPt-1317-6B}
\ck{155}{154.0}{gr}{wPt-6640-6B}
\ck{156}{154.8}{gr}{wPt-9345-6B}
\ck{157}{155.6}{gr}{wPt-1240-6B}
\ck{158}{156.3}{gr}{wPt-6707-6B}
\ck{159}{157.0}{gr}{wPt-8257-6B}
\ck{160}{157.8}{gr}{wPt-4580-6B}

% ---------- links ----------
\draw[lnkline] (kb.east) -- (c1n.west);
\draw[lnkline] (c1.east) -- (ut1n.west);
\draw[lnkline] (ut1.east) -- (r0n.west);
\draw[lnkline] (m1.east) -- (s7n.west);
\draw[lnkline] (s6.east) -- (l1n.west);
\draw[lnkline] (l1.east) -- (r7n.west);
\draw[lnkline] (c13.east) -- (m13n.west);
\draw[lnkline] (c19.east) -- (m16n.west);
\draw[lnkline] (c23.east) -- (m19n.west);
\draw[lnkline] (c24.east) -- (m22n.west);
\draw[lnkline] (c25.east) -- (m26n.west);
\draw[lnkline] (k2.east) -- (c25n.west);
\draw[lnkline] (k4.east) -- (c28n.west);
\draw[lnkline] (k6.east) -- (c29n.west);
\draw[lnkline] (c28.east) -- (s27n.west);
\draw[lnkline] (c29.east) -- (s28n.west);
\draw[lnkline] (c30.east) -- (m39n.west);
\draw[lnkline] (m39.east) -- (s29n.west);
\draw[lnkline] (s29.east) -- (u6n.west);
\draw[lnkline] (s26.east) -- (u3n.west);
\draw[lnkline] (s16.east) -- (l4n.west);
\draw[lnkline] (m22.east) -- (s23n.west);
\draw[lnkline] (s25.east) -- (l13n.west);
\draw[lnkline] (l13.east) -- (r68n.west);
\draw[lnkline] (l16.east) -- (r96n.west);
\draw[lnkline] (u1.east) -- (r58n.west);
\draw[lnkline] (u4.east) -- (r92n.west);
\draw[lnkline] (u6.east) -- (r106n.west);
\draw[lnkline] (k15.east) -- (m57n.west);
\draw[lnkline] (m56.east) -- (ub1n.west);
\draw[lnkline] (ub1.east) -- (r135n.west);
\draw[lnkline] (m51.east) -- (l24n.west);
\end{tikzpicture}
\end{document}
